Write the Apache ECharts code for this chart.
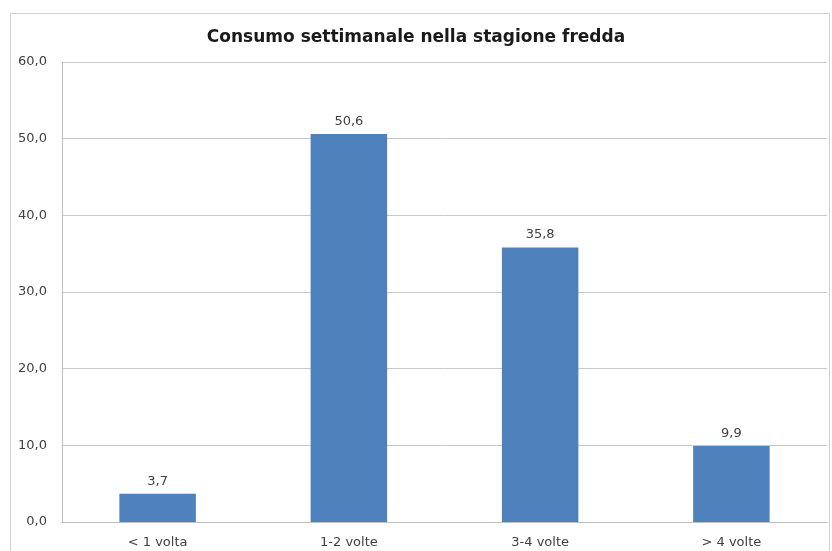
<!DOCTYPE html>
<html>
<head>
<meta charset="utf-8">
<script src="https://cdn.jsdelivr.net/npm/echarts@6/dist/echarts.min.js"></script>
<style>
  html, body { margin: 0; padding: 0; background: #ffffff; }
  #chart { width: 832px; height: 551px; }
</style>
</head>
<body>
<div id="chart"></div>
<script>
// Weekly consumption during the cold season (percentages)
const chartTitle = 'Consumo settimanale nella stagione fredda';
const categories = ['< 1 volta', '1-2 volte', '3-4 volte', '> 4 volte'];
const values = [3.7, 50.6, 35.8, 9.9];
const yMin = 0;
const yMax = 60;
const yStep = 10;

const fmt = v => v.toFixed(1).replace('.', ',');
const font = 'DejaVu Sans, Verdana, sans-serif';

const chart = echarts.init(document.getElementById('chart'), null, { renderer: 'canvas' });
chart.setOption({
  backgroundColor: '#ffffff',
  animation: false,
  title: {
    text: chartTitle,
    left: 'center',
    top: 24,
    textStyle: { fontFamily: font, fontSize: 17, fontWeight: 'bold', color: '#1a1a1a' }
  },
  graphic: [{
    type: 'rect',
    shape: { x: 10.5, y: 13.5, width: 819, height: 560 },
    style: { fill: 'none', stroke: '#d0d0d0', lineWidth: 1 },
    silent: true
  }],
  grid: { left: 62, right: 5, top: 62, bottom: 29, containLabel: false },
  xAxis: {
    type: 'category',
    data: categories,
    axisLine: { show: true, lineStyle: { color: '#bfbfbf', width: 1 } },
    axisTick: { show: false },
    axisLabel: { fontFamily: font, fontSize: 13, color: '#404040', margin: 14 }
  },
  yAxis: {
    type: 'value',
    min: yMin,
    max: yMax,
    interval: yStep,
    axisLine: { show: true, lineStyle: { color: '#bfbfbf', width: 1 } },
    axisTick: { show: false },
    splitLine: { show: true, lineStyle: { color: '#c8c8c8', width: 1 } },
    axisLabel: { fontFamily: font, fontSize: 13, color: '#404040', margin: 15, formatter: v => fmt(v) }
  },
  series: [{
    type: 'bar',
    data: values,
    barWidth: '40%',
    itemStyle: { color: '#4f81bd' },
    label: {
      show: true,
      position: 'top',
      distance: 6,
      fontFamily: font,
      fontSize: 13,
      color: '#404040',
      formatter: p => fmt(p.value)
    }
  }]
});
</script>
</body>
</html>
